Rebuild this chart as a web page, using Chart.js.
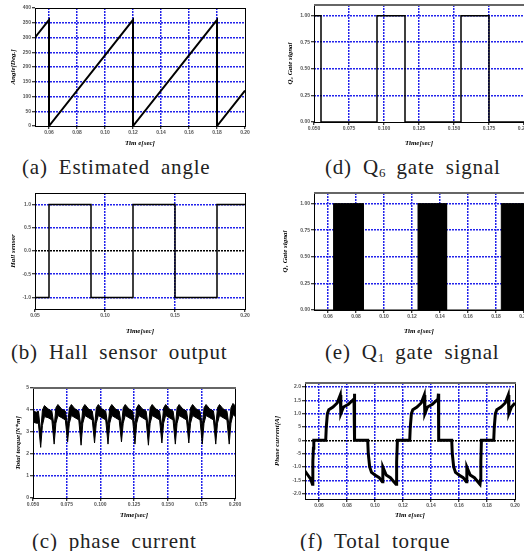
<!DOCTYPE html>
<html>
<head>
<meta charset="utf-8">
<script src="https://cdn.jsdelivr.net/npm/chart.js@4.4.1/dist/chart.umd.min.js"></script>
<style>
  html, body { margin: 0; padding: 0; background: #fff; }
  body { width: 524px; height: 551px; overflow: hidden; position: relative; }
  canvas { position: absolute; }
  .cap { position: absolute; font-family: "Liberation Serif", serif; font-size: 21px; color: #222;
         white-space: nowrap; letter-spacing: 0.8px; word-spacing: 5px; line-height: 20px; }
  .cap sub { font-size: 13px; vertical-align: -3px; line-height: 0; letter-spacing: 0; }
</style>
</head>
<body>
<canvas id="chartA" width="262" height="150" style="left:0;top:0"></canvas>
<canvas id="chartD" width="277" height="150" style="left:262px;top:0"></canvas>
<canvas id="chartB" width="262" height="160" style="left:0;top:180px"></canvas>
<canvas id="chartE" width="277" height="160" style="left:262px;top:180px"></canvas>
<canvas id="chartC" width="262" height="150" style="left:0;top:375px"></canvas>
<canvas id="chartF" width="262" height="155" style="left:262px;top:370px"></canvas>

<div class="cap" style="left:22px;top:157px">(a) Estimated angle</div>
<div class="cap" style="left:325px;top:157px">(d) Q<sub>6</sub> gate signal</div>
<div class="cap" style="left:11px;top:342px">(b) Hall sensor output</div>
<div class="cap" style="left:325px;top:342px">(e) Q<sub>1</sub> gate signal</div>
<div class="cap" style="left:32px;top:531px">(c) phase current</div>
<div class="cap" style="left:300px;top:531px">(f) Total torque</div>

<script>
// (a) estimated angle
var angleTime = [0.05, 0.06, 0.06, 0.12, 0.12, 0.18, 0.18, 0.20];
var angleDeg = [300, 360, 0, 360, 0, 360, 0, 120];
var angleXTicks = [0.06, 0.08, 0.10, 0.12, 0.14, 0.16, 0.18, 0.20];
var angleXLabels = ["0.06", "0.08", "0.10", "0.12", "0.14", "0.16", "0.18", "0.20"];
var angleYTicks = [0, 50, 100, 150, 200, 250, 300, 350, 400];
var angleYLabels = ["0", "50", "100", "150", "200", "250", "300", "350", "400"];

// (b) hall sensor
var hallTime = [0.05, 0.06, 0.06, 0.09, 0.09, 0.12, 0.12, 0.15, 0.15, 0.18, 0.18, 0.20];
var hallLevel = [-1, -1, 1, 1, -1, -1, 1, 1, -1, -1, 1, 1];
var hallXTicks = [0.05, 0.10, 0.15, 0.20];
var hallXLabels = ["0.05", "0.10", "0.15", "0.20"];
var hallYTicks = [-1, -0.5, 0, 0.5, 1];
var hallYLabels = ["-1.0", "-0.5", "0.0", "0.5", "1.0"];

// (c) total torque band (upper / lower edge of the ripple)
var torqueTime = [
  0.0500, 0.0525, 0.0540, 0.0557, 0.0570, 0.0585, 0.0612,
  0.0640, 0.0657, 0.0670, 0.0685, 0.0712,
  0.0740, 0.0757, 0.0770, 0.0785, 0.0812,
  0.0840, 0.0857, 0.0870, 0.0885, 0.0912,
  0.0940, 0.0957, 0.0970, 0.0985, 0.1012,
  0.1040, 0.1057, 0.1070, 0.1085, 0.1112,
  0.1140, 0.1157, 0.1170, 0.1185, 0.1212,
  0.1240, 0.1257, 0.1270, 0.1285, 0.1312,
  0.1340, 0.1357, 0.1370, 0.1385, 0.1412,
  0.1440, 0.1457, 0.1470, 0.1485, 0.1512,
  0.1540, 0.1557, 0.1570, 0.1585, 0.1612,
  0.1640, 0.1657, 0.1670, 0.1685, 0.1712,
  0.1740, 0.1757, 0.1770, 0.1785, 0.1812,
  0.1840, 0.1857, 0.1870, 0.1885, 0.1912,
  0.1940, 0.1957, 0.1970, 0.1985, 0.2000
];
var torqueHigh = [
  3.95, 3.90, 3.95, 3.00, 4.00, 4.20, 4.05,
  3.95, 3.25, 4.10, 4.25, 4.05,
  3.95, 3.30, 4.10, 4.25, 4.05,
  3.95, 3.20, 4.10, 4.25, 4.05,
  3.95, 3.25, 4.10, 4.25, 4.05,
  3.95, 3.25, 4.10, 4.25, 4.05,
  3.95, 3.30, 4.10, 4.25, 4.05,
  3.95, 3.25, 4.10, 4.25, 4.05,
  3.95, 3.20, 4.10, 4.25, 4.05,
  3.95, 3.25, 4.10, 4.25, 4.05,
  3.95, 3.25, 4.10, 4.25, 4.05,
  3.95, 3.25, 4.10, 4.25, 4.05,
  3.95, 3.25, 4.10, 4.25, 4.05,
  3.95, 3.25, 4.10, 4.25, 4.05,
  3.95, 3.25, 4.10, 4.30, 4.20
];
var torqueLow = [
  3.45, 3.40, 3.40, 2.30, 3.30, 3.70, 3.65,
  3.55, 2.45, 3.40, 3.75, 3.65,
  3.55, 2.55, 3.40, 3.75, 3.65,
  3.55, 2.40, 3.40, 3.75, 3.65,
  3.55, 2.50, 3.40, 3.75, 3.65,
  3.55, 2.45, 3.40, 3.75, 3.65,
  3.55, 2.55, 3.40, 3.75, 3.65,
  3.55, 2.45, 3.40, 3.75, 3.65,
  3.55, 2.40, 3.40, 3.75, 3.65,
  3.55, 2.50, 3.40, 3.75, 3.65,
  3.55, 2.45, 3.40, 3.75, 3.65,
  3.55, 2.50, 3.40, 3.75, 3.65,
  3.55, 2.45, 3.40, 3.75, 3.65,
  3.55, 2.45, 3.40, 3.75, 3.65,
  3.55, 2.45, 3.40, 3.80, 3.70
];
var torqueXTicks = [0.05, 0.075, 0.10, 0.125, 0.15, 0.175, 0.20];
var torqueXLabels = ["0.050", "0.075", "0.100", "0.125", "0.150", "0.175", "0.200"];
var torqueYTicks = [0, 1, 2, 3, 4, 5];
var torqueYLabels = ["0", "1", "2", "3", "4", "5"];

// (d) Q6 gate signal
var q6Time = [0.05, 0.055, 0.055, 0.095, 0.095, 0.115, 0.115, 0.155, 0.155, 0.175, 0.175, 0.20];
var q6Level = [1, 1, 0, 0, 1, 1, 0, 0, 1, 1, 0, 0];
var q6XTicks = [0.05, 0.075, 0.10, 0.125, 0.15, 0.175, 0.20];
var q6XLabels = ["0.050", "0.075", "0.100", "0.125", "0.150", "0.175", "0.200"];
var gateYTicks = [0, 0.25, 0.5, 0.75, 1];
var gateYLabels = ["0.00", "0.25", "0.50", "0.75", "1.00"];

// (e) Q1 gate signal (PWM blocks)
var q1Time = [0.05, 0.064, 0.064, 0.0852, 0.0852, 0.1243, 0.1243, 0.1447, 0.1447, 0.1838, 0.1838, 0.20];
var q1Level = [0, 0, 1, 1, 0, 0, 1, 1, 0, 0, 1, 1];
var q1XTicks = [0.06, 0.08, 0.10, 0.12, 0.14, 0.16, 0.18, 0.20];
var q1XLabels = ["0.06", "0.08", "0.10", "0.12", "0.14", "0.16", "0.18", "0.20"];

// (f) phase current
var currentTime = [
  0.0500, 0.0520, 0.0540, 0.0553, 0.0555, 0.0557, 0.0560, 0.0563,
  0.0648, 0.0652, 0.0660, 0.0670, 0.0700, 0.0730, 0.0752, 0.0756, 0.0775, 0.0810, 0.0850, 0.0853, 0.0855,
  0.0948, 0.0952, 0.0962, 0.0975, 0.1000, 0.1030, 0.1052, 0.1056, 0.1080, 0.1110, 0.1150, 0.1153, 0.1156, 0.1160,
  0.1248, 0.1252, 0.1260, 0.1270, 0.1300, 0.1330, 0.1352, 0.1356, 0.1375, 0.1410, 0.1450, 0.1453, 0.1455,
  0.1548, 0.1552, 0.1562, 0.1575, 0.1600, 0.1630, 0.1652, 0.1656, 0.1680, 0.1710, 0.1750, 0.1753, 0.1756, 0.1760,
  0.1848, 0.1852, 0.1860, 0.1870, 0.1900, 0.1930, 0.1952, 0.1956, 0.1975, 0.2000
];
var currentAmp = [
  -11.5, -13, -14.5, -16.5, -15, -8, -3, 0,
  0, 5, 10, 11.5, 12.5, 14, 17, 10, 12.5, 13.5, 15.5, 17.5, 0,
  0, -5, -10, -12, -13, -14, -15.5, -10, -13, -14, -16.5, -15, -8, 0,
  0, 5, 10, 11.5, 12.5, 14, 17, 10, 12.5, 13.5, 15.5, 17.5, 0,
  0, -5, -10, -12, -13, -14, -15.5, -10, -13, -14, -16.5, -15, -8, 0,
  0, 5, 10, 11.5, 12.5, 14, 17, 10, 12.5, 14
];
var currentXTicks = [0.06, 0.08, 0.10, 0.12, 0.14, 0.16, 0.18, 0.20];
var currentXLabels = ["0.06", "0.08", "0.10", "0.12", "0.14", "0.16", "0.18", "0.20"];
var currentYTicks = [-20, -15, -10, -5, 0, 5, 10, 15, 20];
var currentYLabels = ["-2.0", "-1.5", "-1.0", "-5", "0", "5", "1.0", "1.5", "2.0"];

var BLUE = "rgb(35,35,235)";

function pts(xs, ys) {
  return xs.map(function (x, i) { return { x: x, y: ys[i] }; });
}

// box around the plot area, top edge drawn grey like the scans
var framePlugin = {
  id: "frame",
  afterDraw: function (chart, args, opts) {
    var ctx = chart.ctx, a = chart.chartArea;
    ctx.save();
    ctx.strokeStyle = "#000";
    ctx.lineWidth = 1;
    ctx.strokeRect(a.left + 0.5, a.top + 0.5, a.right - a.left, a.bottom - a.top);
    if (opts.greyTop) {
      ctx.strokeStyle = "#666";
      ctx.lineWidth = 2;
      ctx.beginPath();
      ctx.moveTo(a.left, a.top);
      ctx.lineTo(a.right + 1, a.top);
      ctx.stroke();
    }
    ctx.restore();
  }
};

function scale(o) {
  return {
    type: "linear",
    min: o.min,
    max: o.max,
    afterBuildTicks: function (s) {
      s.ticks = o.ticks.map(function (v) { return { value: v }; });
    },
    afterFit: function (s) {
      if (s.isHorizontal()) s.height = o.size; else s.width = o.size;
    },
    ticks: {
      autoSkip: false,
      maxRotation: 0,
      padding: 1,
      color: "#555",
      font: { family: "Liberation Sans", size: 5, weight: "bold" },
      callback: function (v, i) { return o.labels[i]; }
    },
    grid: {
      color: function (c) {
        var v = c.tick ? c.tick.value : null;
        if (v === null || Math.abs(v - o.min) < 1e-9 || Math.abs(v - o.max) < 1e-9) return "rgba(0,0,0,0)";
        if (o.zero && v === 0) return "#000";
        return BLUE;
      },
      lineWidth: 1.5,
      tickLength: 3,
      tickColor: "#000",
      tickWidth: 1
    },
    border: { display: false, dash: [2, 1] },
    title: {
      display: true,
      text: o.title,
      color: "#000",
      padding: o.titlePad,
      font: { family: "Liberation Serif", size: 7, style: "italic", weight: "bold" }
    }
  };
}

function makeChart(id, datasets, xs, ys, pad, greyTop) {
  return new Chart(document.getElementById(id).getContext("2d"), {
    type: "scatter",
    data: { datasets: datasets },
    options: {
      responsive: false,
      animation: false,
      devicePixelRatio: 1,
      layout: { padding: pad },
      plugins: { legend: { display: false }, tooltip: { enabled: false }, frame: { greyTop: greyTop } },
      elements: { point: { radius: 0 } },
      scales: { x: xs, y: ys }
    },
    plugins: [framePlugin]
  });
}

function line(data, width) {
  return { data: data, showLine: true, borderColor: "#000", borderWidth: width, pointRadius: 0, tension: 0 };
}

function drawGraph() {
  // (a)
  makeChart("chartA",
    [line(pts(angleTime, angleDeg), 2)],
    scale({ min: 0.05, max: 0.20, ticks: angleXTicks, labels: angleXLabels, size: 24, title: "Tim e[sec]", titlePad: { top: 0, bottom: 3 } }),
    scale({ min: 0, max: 400, ticks: angleYTicks, labels: angleYLabels, size: 35, title: "Angle[Deg.]", titlePad: { top: 9, bottom: 0 } }),
    { top: 8, right: 17, left: 0, bottom: 0 }, false);

  // (d)
  makeChart("chartD",
    [line(pts(q6Time, q6Level), 1.5)],
    scale({ min: 0.05, max: 0.20, ticks: q6XTicks, labels: q6XLabels, size: 28, title: "Time[sec]", titlePad: { top: 0, bottom: 3 } }),
    scale({ min: 0, max: 1.1, ticks: gateYTicks, labels: gateYLabels, size: 52, title: "Q\u2086 Gate signal", titlePad: { top: 24, bottom: 0 } }),
    { top: 5, right: 15, left: 0, bottom: 0 }, true);

  // (b)
  makeChart("chartB",
    [line(pts(hallTime, hallLevel), 1.5)],
    scale({ min: 0.05, max: 0.20, ticks: hallXTicks, labels: hallXLabels, size: 31, title: "Time[sec]", titlePad: { top: 0, bottom: 5 } }),
    scale({ min: -1.25, max: 1.25, ticks: hallYTicks, labels: hallYLabels, size: 35, title: "Hall sensor", titlePad: { top: 9, bottom: 0 }, zero: true }),
    { top: 13, right: 17, left: 0, bottom: 0 }, false);

  // (e)
  var q1 = line(pts(q1Time, q1Level), 1);
  q1.fill = "origin";
  q1.backgroundColor = "#000";
  makeChart("chartE",
    [q1],
    scale({ min: 0.05, max: 0.20, ticks: q1XTicks, labels: q1XLabels, size: 30, title: "Tim e[sec]", titlePad: { top: 0, bottom: 5 } }),
    scale({ min: 0, max: 1.1, ticks: gateYTicks, labels: gateYLabels, size: 52, title: "Q\u2081 Gate signal", titlePad: { top: 19, bottom: 0 } }),
    { top: 13, right: 15, left: 0, bottom: 0 }, true);

  // (c)
  var hi = line(pts(torqueTime, torqueHigh), 1);
  hi.fill = "+1";
  hi.backgroundColor = "#000";
  var lo = line(pts(torqueTime, torqueLow), 1);
  makeChart("chartC",
    [hi, lo],
    scale({ min: 0.05, max: 0.20, ticks: torqueXTicks, labels: torqueXLabels, size: 27, title: "Time[sec]", titlePad: { top: 0, bottom: 6 } }),
    scale({ min: 0, max: 5, ticks: torqueYTicks, labels: torqueYLabels, size: 33, title: "Total torque[N*m]", titlePad: { top: 14, bottom: 0 } }),
    { top: 13, right: 27, left: 0, bottom: 0 }, true);

  // (f)
  makeChart("chartF",
    [line(pts(currentTime, currentAmp), 3)],
    scale({ min: 0.05, max: 0.20, ticks: currentXTicks, labels: currentXLabels, size: 26, title: "Tim e[sec]", titlePad: { top: 0, bottom: 6 } }),
    scale({ min: -22, max: 21.5, ticks: currentYTicks, labels: currentYLabels, size: 43, title: "Phase current[A]", titlePad: { top: 11, bottom: 0 }, zero: true }),
    { top: 13, right: 9, left: 0, bottom: 0 }, true);
}
window.onload = drawGraph;
</script>
</body>
</html>
